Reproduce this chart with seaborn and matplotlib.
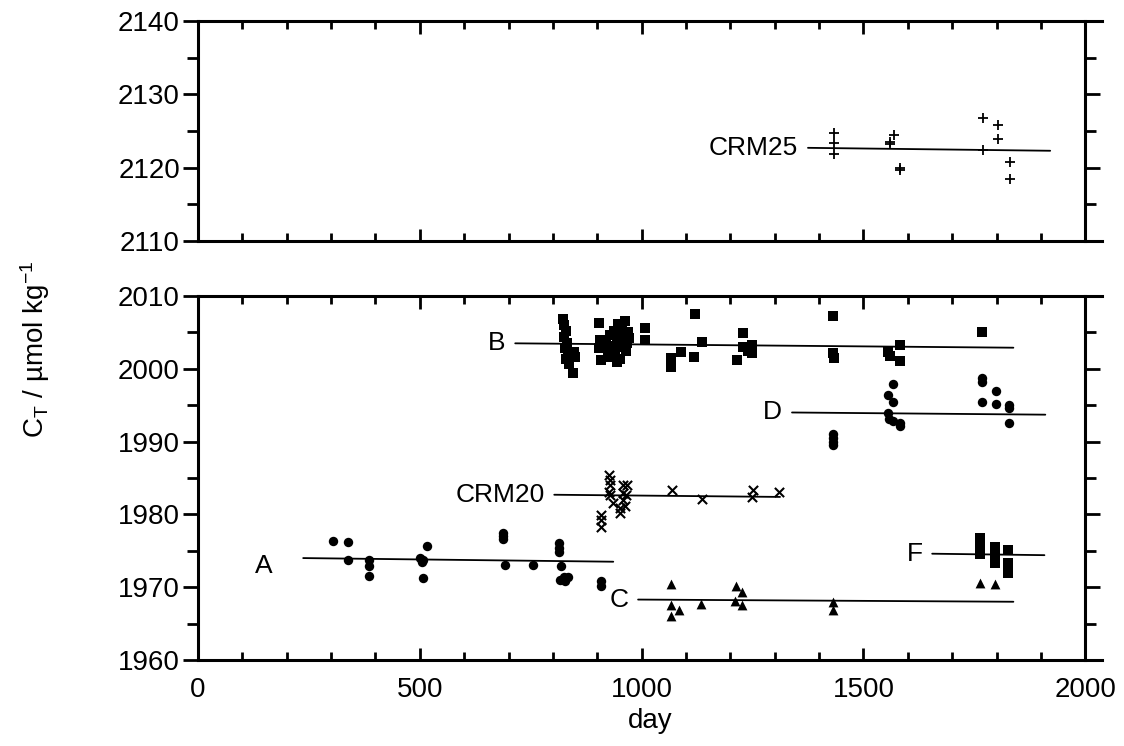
"""Total dissolved inorganic carbon in reference materials and samples over time."""

import matplotlib

matplotlib.use("Agg")
import matplotlib.pyplot as plt
import pandas as pd
import seaborn as sns
from matplotlib.ticker import MultipleLocator


# CRM25 (upper panel)
crm25_day = [1434, 1434, 1434, 1569, 1560, 1560, 1583, 1583,
             1770, 1770, 1804, 1804, 1831, 1831]
crm25_ct = [2124.7, 2123.3, 2121.9, 2124.5, 2123.5, 2123.2, 2120.0, 2119.7,
            2126.7, 2122.4, 2125.8, 2123.9, 2120.7, 2118.4]

# batch B (squares)
b_day = [823, 826, 830, 826, 832, 828, 834, 830, 836, 846, 848, 850,
         904, 906, 904, 908,
         920, 924, 928, 930, 934, 938, 940, 944, 946, 950,
         952, 956, 958, 962, 964, 966, 970, 972, 944, 948,
         1008, 1008, 1066, 1066, 1089, 1118, 1121, 1136, 1215, 1229,
         1229, 1240, 1249, 1249, 1432, 1432, 1434, 1583, 1556, 1560,
         1583, 1768]
b_ct = [2006.9, 2006.0, 2005.2, 2004.4, 2003.6, 2002.8, 2002.0, 2001.3, 2000.6, 1999.4, 2002.3, 2001.6,
        2006.3, 2004.0, 2002.9, 2001.2,
        2003.5, 2002.6, 2004.6, 2001.6, 2003.2, 2005.2, 2002.2, 2004.0, 2006.2, 2003.0,
        2001.3, 2005.6, 2004.4, 2006.6, 2002.4, 2003.6, 2005.0, 2004.2, 2000.9, 2005.8,
        2005.6, 2004.0, 2001.5, 2000.2, 2002.3, 2001.6, 2007.5, 2003.7, 2001.2, 2004.9,
        2003.0, 2002.4, 2003.3, 2002.2, 2007.3, 2002.2, 2001.5, 2003.3, 2002.3, 2001.8,
        2001.1, 2005.1]

# batch D (circles)
d_day = [1432, 1432, 1432, 1432, 1567, 1556, 1567, 1556, 1558, 1567,
         1583, 1583, 1768, 1768, 1768, 1799, 1799, 1829, 1829, 1829]
d_ct = [1991.1, 1990.5, 1990.0, 1989.5, 1997.9, 1996.4, 1995.4, 1993.9, 1993.1, 1992.8,
        1992.1, 1992.5, 1998.8, 1998.2, 1995.4, 1996.9, 1995.2, 1995.0, 1994.6, 1992.6]

# CRM20 (crosses)
crm20_day = [927, 929, 929, 927, 929, 909, 909, 909, 936, 952, 952,
             958, 958, 958, 967, 962, 964, 1069, 1136, 1251, 1249, 1310]
crm20_ct = [1985.4, 1984.7, 1984.0, 1983.1, 1982.7, 1979.9, 1979.2, 1978.3, 1981.6, 1980.9, 1980.2,
            1984.0, 1983.0, 1982.0, 1984.0, 1981.2, 1982.6, 1983.4, 1982.1, 1983.4, 1982.4, 1983.1]

# batch A (circles)
a_day = [304, 338, 338, 386, 386, 386, 501, 505, 507, 516, 507, 688, 688,
         688, 692, 755, 814, 814, 814, 818, 816, 826, 834, 828, 909, 909]
a_ct = [1976.4, 1976.2, 1973.7, 1973.7, 1972.9, 1971.5, 1974.0, 1973.4, 1973.8, 1975.7, 1971.3, 1977.5, 1977.1,
        1976.6, 1973.0, 1973.0, 1976.1, 1975.4, 1974.9, 1972.9, 1971.0, 1971.4, 1971.4, 1970.8, 1970.8, 1970.1]

# batch C (triangles)
c_day = [1066, 1066, 1085, 1066, 1134, 1213, 1227, 1211, 1227, 1432, 1432, 1763, 1797]
c_ct = [1970.5, 1967.6, 1966.8, 1966.0, 1967.7, 1970.2, 1969.4, 1968.1, 1967.6, 1968.0, 1966.9, 1970.6, 1970.5]

# batch F (squares)
f_day = [1763, 1763, 1763, 1763, 1797, 1797, 1797, 1826, 1826, 1826]
f_ct = [1976.7, 1975.9, 1975.0, 1974.6, 1975.5, 1974.5, 1973.3, 1975.1, 1973.3, 1972.0]

# fitted lines: (label, day start, day end, CT start, CT end)
fit_labels = ["CRM25", "B", "D", "CRM20", "A", "C", "F"]
fit_day_start = [1375, 715, 1339, 803, 237, 992, 1655]
fit_day_end = [1921, 1838, 1910, 1312, 936, 1838, 1908]
fit_ct_start = [2122.7, 2003.5, 1994.0, 1982.7, 1974.0, 1968.3, 1974.6]
fit_ct_end = [2122.3, 2002.9, 1993.7, 1982.4, 1973.5, 1968.0, 1974.4]

X_RIGHT = 2038
FONT = "Liberation Sans"


def style_axis(axis, y_low, y_high, show_xlabels):
    axis.set_xlim(0, X_RIGHT)
    axis.set_ylim(y_low, y_high)
    axis.spines["right"].set_position(("data", 2000))
    for spine in axis.spines.values():
        spine.set_linewidth(2.2)
        spine.set_color("black")
    axis.xaxis.set_major_locator(MultipleLocator(500))
    axis.xaxis.set_minor_locator(MultipleLocator(100))
    axis.yaxis.set_major_locator(MultipleLocator(10))
    axis.yaxis.set_minor_locator(MultipleLocator(5))
    axis.tick_params(axis="x", which="both", direction="in", top=True,
                     bottom=True, width=2.0, labelbottom=show_xlabels,
                     labelsize=20, pad=12, color="black", labelcolor="black")
    axis.tick_params(axis="x", which="major", length=9)
    axis.tick_params(axis="x", which="minor", length=6)
    axis.tick_params(axis="y", which="both", direction="out", left=True,
                     right=True, width=2.0, labelsize=20, pad=2,
                     color="black", labelcolor="black")
    axis.tick_params(axis="y", which="major", length=11)
    axis.tick_params(axis="y", which="minor", length=8)
    axis.set_xlabel("")
    axis.set_ylabel("")
    axis.grid(False)


def draw_points(axis, days, values, marker, size, linewidth=0):
    frame = pd.DataFrame({"day": days, "ct": values})
    sns.scatterplot(data=frame, x="day", y="ct", marker=marker, s=size,
                    color="black", edgecolor="black", linewidth=linewidth,
                    legend=False, ax=axis, zorder=3)


def draw_fit(axis, index):
    frame = pd.DataFrame({
        "day": [fit_day_start[index], fit_day_end[index]],
        "ct": [fit_ct_start[index], fit_ct_end[index]],
    })
    sns.lineplot(data=frame, x="day", y="ct", color="black", linewidth=1.3,
                 ax=axis, zorder=2)
    shift = (-22, -6) if fit_labels[index] == "A" else (-7, 0)
    axis.annotate(fit_labels[index],
                  xy=(fit_day_start[index], fit_ct_start[index]),
                  xytext=shift, textcoords="offset points",
                  ha="right", va="center", fontsize=19, color="black")


sns.set_theme(style="ticks")
plt.rcParams["font.family"] = [FONT, "DejaVu Sans"]
plt.rcParams["text.color"] = "black"
plt.rcParams["axes.labelcolor"] = "black"
plt.rcParams["mathtext.fontset"] = "custom"
plt.rcParams["mathtext.rm"] = FONT
plt.rcParams["mathtext.it"] = FONT + ":italic"

figure = plt.figure(figsize=(11.24, 7.46), dpi=100)
top = figure.add_axes([0.1762, 0.677, 0.8043, 0.2949])
bottom = figure.add_axes([0.1762, 0.1153, 0.8043, 0.4879])

draw_points(top, crm25_day, crm25_ct, "+", 60, linewidth=1.3)
draw_fit(top, 0)

draw_points(bottom, b_day, b_ct, "s", 42)
draw_points(bottom, d_day, d_ct, "o", 46)
draw_points(bottom, crm20_day, crm20_ct, "x", 44, linewidth=1.5)
draw_points(bottom, a_day, a_ct, "o", 46)
draw_points(bottom, c_day, c_ct, "^", 50)
draw_points(bottom, f_day, f_ct, "s", 42)
for position in range(1, len(fit_labels)):
    draw_fit(bottom, position)

style_axis(top, 2110, 2140, show_xlabels=False)
style_axis(bottom, 1960, 2010, show_xlabels=True)
bottom.set_xlabel("day", fontsize=20, labelpad=4, color="black")

figure.text(0.031, 0.531, r"C$_\mathrm{T}$ / µmol kg$^{\mathrm{-1}}$",
            rotation=90, ha="center", va="center", fontsize=20, color="black")

figure.savefig("out.png", dpi=100)
plt.close(figure)
